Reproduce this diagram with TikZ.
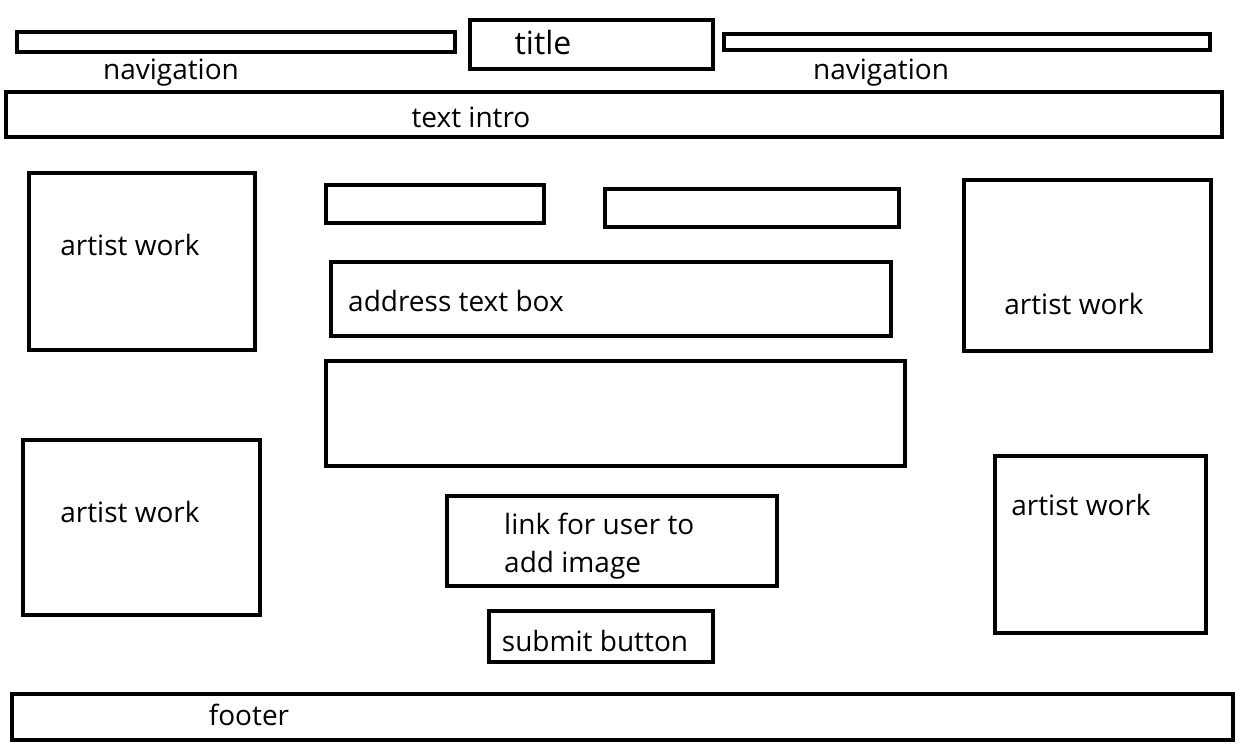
\documentclass[tikz,border=0pt]{standalone}
\usepackage{fontspec}
\setmainfont{Open Sans}[Ligatures=NoCommon]
\usetikzlibrary{positioning}

\begin{document}
\begin{tikzpicture}
		[x=1pt,y=-1pt,box/.style={shape=rectangle,draw,line width=4pt,inner sep=0pt},
		word/.style={font=\fontsize{28}{33}\selectfont,inner sep=0pt,anchor=base}]
		\useasboundingbox (0,0) rectangle (1242,746);
		% header
		\node [box,minimum width=438,minimum height=20] (navl) at (236,42) {};
		\node [box,minimum width=243,minimum height=49] (title) at (591.5,44.5) {};
		\node [box,minimum width=486,minimum height=16] (navr) at (967,42) {};
		\node [word] (navltext) at (171,80) {navigation};
		\node [word,font=\fontsize{32}{38}\selectfont] (titletext) at (543,55) {title};
		\node [word] (navrtext) at (881,80) {navigation};
		\node [box,minimum width=1216,minimum height=45] (intro) at (614,114.5) {};
		\node [word] (introtext) at (471,128) {text intro};
		
		% artist work boxes
		\node [box,minimum width=226,minimum height=177] (art1) at (142,261.5) {};
		\node [box,minimum width=247,minimum height=171] (art2) at (1087.5,265.5) {};
		\node [box,minimum width=237,minimum height=175] (art3) at (141.5,527.5) {};
		\node [box,minimum width=211,minimum height=177] (art4) at (1100.5,544.5) {};
		\node [word] (art1text) at (130,255) {artist work};
		\node [word] (art2text) at (1074,314) {artist work};
		\node [word] (art3text) at (130,522) {artist work};
		\node [word] (art4text) at (1081,515) {artist work};
		
		% form
		\node [box,minimum width=218,minimum height=38] (field1) at (435,204) {};
		\node [box,minimum width=294,minimum height=38] (field2) at (752,208) {};
		\node [box,minimum width=560,minimum height=74] (address) at (611,299) {};
		\node [word,anchor=base west] (addresstext) at (348,311) {address text box};
		\node [box,minimum width=579,minimum height=105] (bigbox) at (615.5,413.5) {};
		\node [box,minimum width=330,minimum height=90] (link) at (612,541) {};
		\node [word,anchor=base west] (linktext) at (504,534) {link for user to};
		\node [word,anchor=base west] (linktext2) at (504,572) {add image};
		\node [box,minimum width=224,minimum height=51] (submit) at (601,636.5) {};
		\node [word] (submittext) at (595,651) {submit button};
		
		% footer
		\node [box,minimum width=1221,minimum height=46] (footer) at (622.5,717) {};
		\node [word] (footertext) at (249,725) {footer};
		
		\end{tikzpicture}
\end{document}
